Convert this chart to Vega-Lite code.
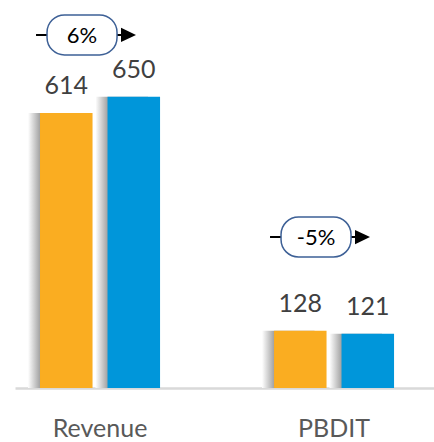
{
  "$schema": "https://vega.github.io/schema/vega-lite/v6.json",
  "width": 419,
  "height": 388,
  "autosize": {"type": "none"},
  "padding": {"left": 15, "top": 0, "right": 0, "bottom": 54},
  "background": "white",
  "config": {"view": {"stroke": null}, "font": "Lato"},
  "datasets": {
    "bars": [
      {"category": "Revenue", "series": "Previous", "value": 614},
      {"category": "Revenue", "series": "Current", "value": 650},
      {"category": "PBDIT", "series": "Previous", "value": 128},
      {"category": "PBDIT", "series": "Current", "value": 121}
    ],
    "growth": [
      {"category": "Revenue", "growth": "6%", "level": 788},
      {"category": "PBDIT", "growth": "-5%", "level": 337}
    ]
  },
  "resolve": {"scale": {"xOffset": "independent"}},
  "encoding": {
    "x": {
      "field": "category",
      "type": "nominal",
      "sort": ["Revenue", "PBDIT"],
      "scale": {"paddingInner": 0.487, "paddingOuter": 0.1388, "align": 0.385},
      "axis": {
        "title": null,
        "labelAngle": 0,
        "ticks": false,
        "tickSize": 0,
        "labelPadding": 48,
        "labelBaseline": "alphabetic",
        "labelFontSize": 25,
        "labelColor": "#595959",
        "labelFont": "Lato",
        "domainColor": "#D9D9D9",
        "domainWidth": 2.5
      }
    }
  },
  "layer": [
    {
      "data": {"name": "bars"},
      "mark": {
        "type": "bar",
        "color": {
          "gradient": "linear",
          "x1": 0, "x2": 1, "y1": 0, "y2": 0,
          "stops": [
            {"offset": 0, "color": "#FFFFFF"},
            {"offset": 0.22, "color": "#A6A6A6"},
            {"offset": 1, "color": "#A6A6A6"}
          ]
        }
      },
      "encoding": {
        "xOffset": {"field": "series", "type": "nominal", "sort": ["Previous", "Current"], "scale": {"type": "band", "range": [-12, 108], "paddingInner": 0.222, "paddingOuter": 0}},
        "y": {"field": "value", "type": "quantitative", "scale": {"domain": [0, 866]}, "axis": null}
      }
    },
    {
      "data": {"name": "bars"},
      "mark": {"type": "bar"},
      "encoding": {
        "xOffset": {"field": "series", "type": "nominal", "sort": ["Previous", "Current"], "scale": {"type": "band", "paddingInner": 0.222, "paddingOuter": 0}},
        "y": {"field": "value", "type": "quantitative", "scale": {"domain": [0, 866]}, "axis": null},
        "color": {"field": "series", "type": "nominal", "scale": {"domain": ["Previous", "Current"], "range": ["#FAAD21", "#0096DA"]}, "legend": null}
      }
    },
    {
      "data": {"name": "bars"},
      "mark": {"type": "text", "baseline": "alphabetic", "dy": -19, "fontSize": 25, "color": "#404040", "font": "Lato"},
      "encoding": {
        "xOffset": {"field": "series", "type": "nominal", "sort": ["Previous", "Current"], "scale": {"type": "band", "paddingInner": 0.222, "paddingOuter": 0}},
        "y": {"field": "value", "type": "quantitative", "scale": {"domain": [0, 866]}, "axis": null},
        "text": {"field": "value", "type": "quantitative"}
      }
    },
    {
      "data": {"name": "growth"},
      "mark": {"type": "rule", "color": "#000000", "strokeWidth": 2, "xOffset": -64, "x2Offset": 29},
      "encoding": {
        "x2": {"field": "category"},
        "y": {"field": "level", "type": "quantitative", "scale": {"domain": [0, 866]}, "axis": null}
      }
    },
    {
      "data": {"name": "growth"},
      "mark": {"type": "point", "shape": "M -1,-0.95 L 1,0 L -1,0.95 Z", "size": 225, "filled": true, "color": "#000000", "opacity": 1, "xOffset": 28.5},
      "encoding": {
        "y": {"field": "level", "type": "quantitative", "scale": {"domain": [0, 866]}, "axis": null}
      }
    },
    {
      "data": {"name": "growth"},
      "mark": {
        "type": "point",
        "shape": "M -0.5,-0.571 L 0.5,-0.571 A 0.5 0.5 0 0 1 1,-0.071 L 1,0.071 A 0.5 0.5 0 0 1 0.5,0.571 L -0.5,0.571 A 0.5 0.5 0 0 1 -1,0.071 L -1,-0.071 A 0.5 0.5 0 0 1 -0.5,-0.571 Z",
        "size": 4900,
        "filled": true,
        "fill": "#FFFFFF",
        "stroke": "#3D6096",
        "strokeWidth": 1.5,
        "opacity": 1,
        "fillOpacity": 1,
        "strokeOpacity": 1,
        "xOffset": -18
      },
      "encoding": {
        "y": {"field": "level", "type": "quantitative", "scale": {"domain": [0, 866]}, "axis": null}
      }
    },
    {
      "data": {"name": "growth"},
      "mark": {"type": "text", "fontSize": 22, "color": "#000000", "baseline": "middle", "dy": 1, "xOffset": -18, "font": "Lato"},
      "encoding": {
        "y": {"field": "level", "type": "quantitative", "scale": {"domain": [0, 866]}, "axis": null},
        "text": {"field": "growth", "type": "nominal"}
      }
    }
  ]
}
